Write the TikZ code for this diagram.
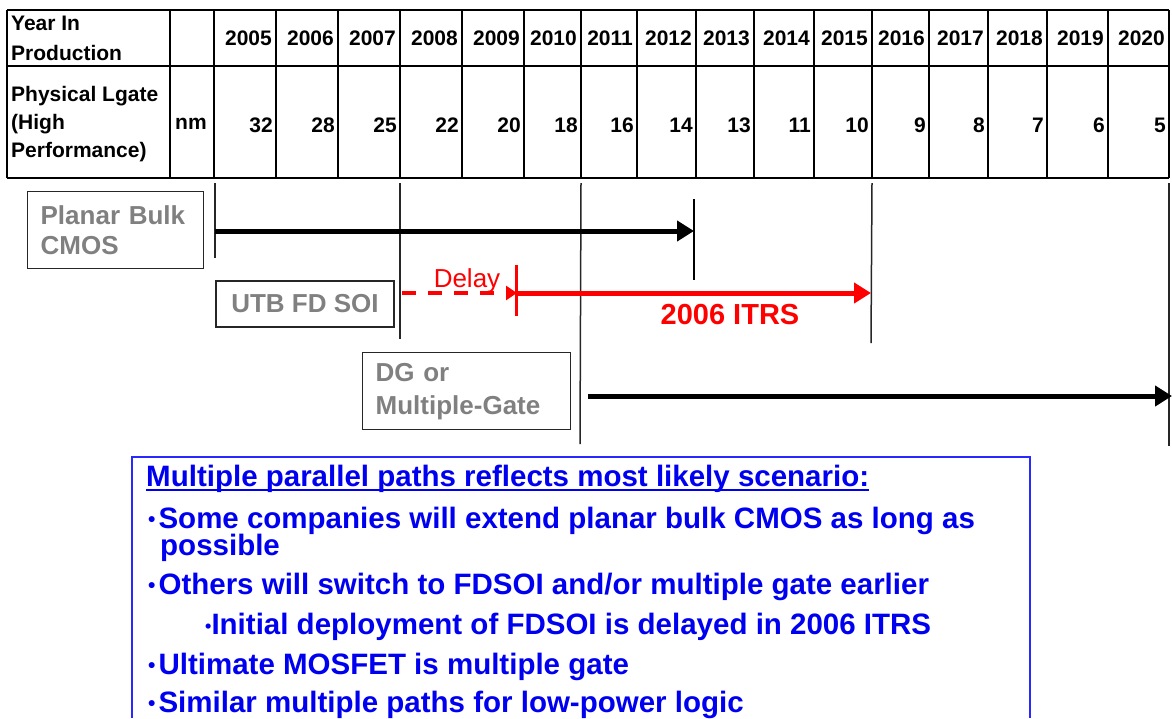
\documentclass[tikz,border=0pt]{standalone}
\usepackage{fontspec}
\setmainfont{Liberation Sans}
\usetikzlibrary{arrows.meta}
\definecolor{txtgray}{RGB}{128,128,128}
\definecolor{itrsred}{RGB}{255,0,0}
\definecolor{noteblue}{RGB}{0,0,240}
\definecolor{boxblue}{RGB}{40,40,255}
\newcommand\mybul{\raisebox{1.5pt}{\fontsize{21}{21}\selectfont•}\hspace{3pt}}
\newcommand\mysubbul{\raisebox{1.5pt}{\fontsize{18}{18}\selectfont•}}
\begin{document}
\begin{tikzpicture}[x=1pt,y=-1pt,
  cell/.style={font=\fontsize{21}{28}\selectfont\bfseries, inner sep=0pt},
  tblthin/.style={line width=1.2pt},
  tblthick/.style={line width=2.3pt},
  guide/.style={line width=1.5pt, draw=black!85},
  lbl/.style={draw=black!85, line width=1.3pt, text=txtgray, font=\bfseries, align=left, inner ysep=0pt},
  blkarrow/.style={line width=5pt, -{Triangle[length=17pt,width=20pt]}},
  redarrow/.style={itrsred, line width=5pt, -{Triangle[length=17pt,width=20pt]}},
  note/.style={text=noteblue, font=\fontsize{29.5}{35}\selectfont\bfseries, inner sep=0pt, anchor=base west}
]
\useasboundingbox (0,0) rectangle (1172,718);

% ---------- table ----------
\draw[tblthin] (7,10) -- (1169,10);
\draw[tblthin] (7,66) -- (1169,66);
\draw[tblthin] (7,178) -- (1169,178);
\foreach \xx in {7,170,214,276,814,872,929,988,1169}
  \draw[tblthin] (\xx,10) -- (\xx,178);
\foreach \xx in {338,400,462,524,581,637,696,754,1047,1108}
  \draw[tblthick] (\xx,10) -- (\xx,178);

\node[cell, anchor=west, align=left, font=\fontsize{21}{30}\selectfont\bfseries] (hyear) at (11,38) {Year In\\Production};
\node[cell, anchor=west, align=left] (hlgate) at (11,124) {Physical Lgate\\(High\\Performance)};
\node[cell, anchor=west] (hunit) at (175,124) {nm};

\foreach \yr/\val/\rr [count=\i] in {2005/32/276,2006/28/338,2007/25/400,2008/22/462,2009/20/524,2010/18/581,2011/16/637,2012/14/696,2013/13/754,2014/11/814,2015/10/872,2016/9/929,2017/8/988,2018/7/1047,2019/6/1108,2020/5/1169} {
  \node[cell, anchor=east] (yr\i) at (\rr-4,38) {\yr};
  \node[cell, anchor=east] (val\i) at (\rr-3,125) {\val};
}

% ---------- guide lines ----------
\draw[guide] (215,183) -- (215,258);
\draw[guide] (400,183) -- (400,339);
\draw[guide] (581,183) -- (580,444);
\draw[guide] (872,183) -- (871,343);
\draw[guide] (1169,183) -- (1169,446);
\draw[line width=2pt] (694,199) -- (694,280);
\draw[itrsred, line width=3pt] (516,265) -- (516,316);

% ---------- labels ----------
\node[lbl, anchor=north west, text width=150pt, inner xsep=13pt, minimum height=77pt,
      font=\fontsize{26}{30}\selectfont\bfseries] (planar) at (27,191) {Planar Bulk\\CMOS};
\node[lbl, minimum width=178pt, minimum height=46pt, align=center,
      font=\fontsize{26}{30}\selectfont\bfseries] (utb) at (305,304) {UTB FD SOI};
\node[lbl, anchor=north west, text width=182pt, inner xsep=13pt, minimum height=77pt,
      font=\fontsize{26}{33}\selectfont\bfseries] (dg) at (362,352) {DG or\\Multiple-Gate};

% ---------- timeline arrows ----------
\coordinate (pbS) at (215,231);
\coordinate (pbE) at (694,231);
\coordinate (dlS) at (402,293);
\coordinate (dlE) at (517,293);
\coordinate (rdS) at (516,293);
\coordinate (rdE) at (871,293);
\coordinate (dgS) at (588,396);
\coordinate (dgE) at (1172,396);

\draw[blkarrow] (pbS) -- (pbE);
\draw[itrsred, line width=3.5pt, dash pattern=on 14pt off 12pt,
      -{Triangle[length=11pt,width=14pt]}] (dlS) -- (dlE);
\draw[redarrow] (rdS) -- (rdE);
\draw[blkarrow] (dgS) -- (dgE);

\node[text=itrsred, font=\fontsize{26}{30}\selectfont, inner sep=0pt, anchor=base] (delay) at (467,287) {Delay};
\node[text=itrsred, font=\fontsize{29}{32}\selectfont\bfseries, inner sep=0pt, anchor=base] (itrs) at (730,324) {2006 ITRS};

% ---------- note box ----------
\draw[boxblue, line width=1.3pt] (132,718) -- (132,457) -- (1030,457) -- (1030,718);
\node[note] (title) at (146,486) {Multiple parallel paths reflects most likely scenario:};
\draw[noteblue, line width=1.6pt] ([yshift=-4pt]title.base west) -- ([yshift=-4pt]title.base east);
\node[note, text depth=2pt] (b1) at (148,528) {\mybul Some companies will extend planar bulk CMOS as long as};
\node[note, text height=18pt] (b1b) at (160,555) {possible};
\node[note] (b2) at (148,594) {\mybul Others will switch to FDSOI and/or multiple gate earlier};
\node[note] (b3) at (205,634) {\mysubbul Initial deployment of FDSOI is delayed in 2006 ITRS};
\node[note] (b4) at (148,674) {\mybul Ultimate MOSFET is multiple gate};
\node[note] (b5) at (148,712) {\mybul Similar multiple paths for low-power logic};
\end{tikzpicture}
\end{document}
